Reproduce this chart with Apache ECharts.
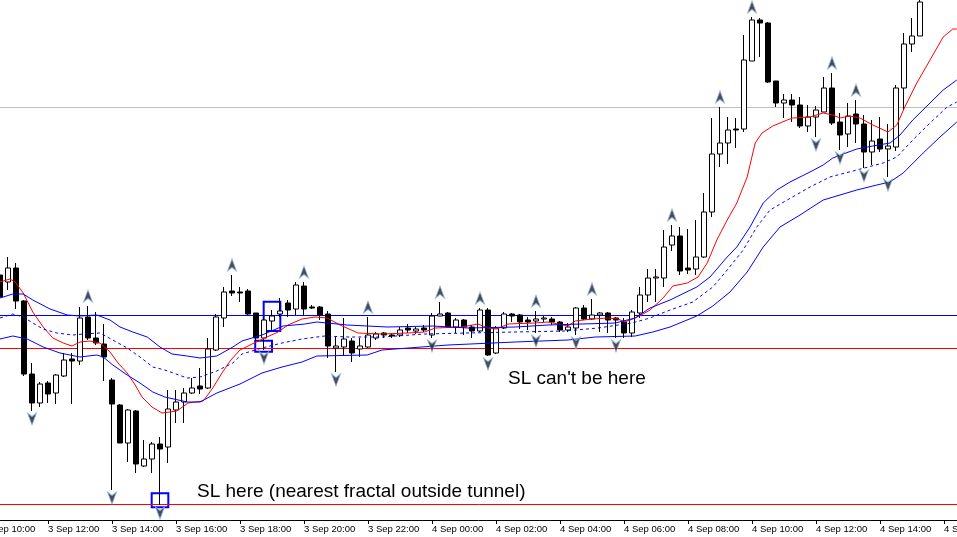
<!DOCTYPE html>
<html>
<head>
<meta charset="utf-8">
<script src="https://cdn.jsdelivr.net/npm/echarts@6/dist/echarts.min.js"></script>
<style>
    html, body { margin: 0; padding: 0; background: #fff; }
    #chart { width: 957px; height: 537px; }
</style>
</head>
<body>
<div id="chart"></div>
<script>
// 15 min bars, slot 0 = 3 Sep 10:00, first visible bar sits in slot 2
const firstSlot = 2;

const tickLabels = ['3 Sep 10:00', '3 Sep 12:00', '3 Sep 14:00', '3 Sep 16:00', '3 Sep 18:00', '3 Sep 20:00',
    '3 Sep 22:00', '4 Sep 00:00', '4 Sep 02:00', '4 Sep 04:00', '4 Sep 06:00', '4 Sep 08:00',
    '4 Sep 10:00', '4 Sep 12:00', '4 Sep 14:00', '4 Sep 16:00'];

const opens = [245, 238, 252, 219, 146, 117, 137, 127, 144, 161,
    159, 203, 182, 176, 140, 115, 77, 109, 54, 61,
    76, 73, 110, 118, 127, 134, 132, 170, 202, 229,
    228, 229, 207, 182, 199, 206, 217, 211, 234, 213,
    213, 206, 172, 173, 179, 171, 173, 182, 187, 185,
    185, 192, 189, 192, 185, 204, 207, 193, 200, 193,
    189, 210, 167, 192, 206, 205, 200, 199, 201, 201,
    198, 190, 192, 212, 201, 205, 207, 202, 198, 187,
    207, 225, 242, 242, 275, 284, 252, 251, 263, 308,
    366, 377, 391, 391, 459, 500, 497, 439, 417, 420,
    415, 394, 403, 408, 432, 398, 386, 406, 396, 368,
    381, 371, 373, 432, 476, 484];
const closes = [223, 252, 219, 146, 117, 136, 126, 145, 160, 159,
    202, 182, 177, 163, 116, 77, 110, 56, 61, 76,
    71, 111, 118, 127, 132, 131, 171, 203, 228, 227,
    227, 206, 182, 200, 204, 209, 210, 235, 211, 212,
    205, 174, 174, 181, 167, 174, 185, 186, 185, 184,
    190, 190, 191, 190, 204, 206, 193, 200, 193, 189,
    210, 165, 192, 206, 204, 198, 198, 201, 202, 198,
    190, 193, 212, 201, 205, 207, 200, 200, 187, 208,
    225, 242, 243, 273, 284, 249, 250, 263, 308, 366,
    377, 390, 390, 460, 500, 497, 438, 417, 420, 415,
    394, 403, 410, 432, 397, 385, 404, 396, 368, 379,
    371, 374, 432, 476, 484, 518];
const lows = [220, 230, 211, 144, 109, 113, 117, 116, 143, 116,
    155, 180, 175, 139, 30, 77, 58, 47, 53, 47,
    15, 57, 97, 97, 126, 126, 131, 169, 193, 224,
    218, 205, 178, 170, 190, 203, 203, 205, 205, 211,
    200, 162, 148, 164, 158, 163, 172, 180, 182, 182,
    183, 187, 186, 188, 182, 204, 192, 187, 185, 182,
    188, 164, 166, 191, 198, 191, 190, 187, 198, 195,
    188, 188, 185, 200, 200, 188, 187, 182, 182, 183,
    202, 218, 218, 233, 269, 245, 246, 245, 262, 303,
    353, 356, 372, 388, 459, 463, 437, 413, 402, 398,
    392, 388, 383, 408, 395, 370, 373, 377, 352, 355,
    368, 343, 369, 410, 468, 484];
const highs = [252, 263, 257, 220, 157, 138, 139, 146, 167, 167,
    213, 214, 208, 196, 142, 116, 111, 110, 80, 78,
    83, 130, 130, 132, 142, 152, 182, 206, 233, 245,
    233, 231, 207, 202, 210, 222, 220, 238, 238, 215,
    214, 209, 183, 202, 182, 182, 203, 188, 188, 187,
    193, 196, 193, 195, 207, 218, 208, 202, 201, 195,
    212, 212, 194, 208, 207, 206, 203, 209, 204, 203,
    199, 197, 213, 215, 221, 208, 208, 203, 202, 210,
    233, 251, 251, 290, 295, 293, 291, 300, 327, 402,
    413, 403, 402, 485, 503, 502, 498, 439, 426, 426,
    423, 415, 414, 443, 447, 407, 417, 420, 405, 400,
    403, 396, 435, 487, 502, 532];

// indicator lines, [slot, price]
const redLine = [[2, 238], [3.25, 241], [3.9, 238], [4.9, 227], [6.1, 208], [7.4, 193], [8.6, 182], [9.9, 177],
    [11, 174], [12, 178], [13.25, 179], [14.5, 177], [15.75, 168], [16.75, 157], [17.9, 147], [18.9, 135],
    [19.75, 123], [21, 113], [22.25, 107], [24.1, 109], [25.5, 117], [27.4, 119], [28.6, 132], [29.75, 147],
    [30.75, 159], [32, 170], [33.5, 176], [35.1, 182], [36.75, 188], [38, 195], [39.75, 201], [41.4, 203],
    [42.9, 202], [44.5, 195], [46.75, 187], [49.75, 186], [52.9, 187], [55.1, 188], [56.4, 192], [59.75, 193],
    [61.75, 196], [63, 192], [64.1, 191], [65.5, 196], [68.9, 197], [70.5, 198], [73, 194], [73.9, 199],
    [76, 201], [78, 202], [79.25, 201], [80.1, 198], [81.4, 202], [82.6, 207], [83.25, 210], [84.9, 222],
    [86.1, 234], [87.9, 237], [89.25, 243], [90.4, 257], [91.6, 280], [92.9, 300], [94.1, 317], [95.4, 343],
    [96.4, 377], [97.25, 387], [98.6, 394], [100.4, 400], [101.1, 402], [103.25, 403], [104.9, 407],
    [106.1, 405], [107, 402], [108.25, 404], [109.5, 402], [111.1, 395], [113, 388], [114.1, 395],
    [115.1, 413], [116.6, 437], [118.25, 460], [119.9, 483], [121.1, 491], [121.6, 491]];
const upperBand = [[2, 222], [3.6, 226], [4.9, 226], [6.1, 220], [8.25, 211], [10.4, 205], [12, 204], [14.1, 205],
    [15.75, 200], [17, 193], [18.6, 188], [20.4, 183], [22, 173], [23.5, 166], [25.4, 164], [27, 162],
    [29.1, 164], [31.1, 173], [32.25, 179], [34.75, 185], [37.4, 194], [40.1, 196], [41.6, 198], [45.4, 195],
    [50.4, 193], [56.1, 194], [60.5, 192], [66.4, 193], [70.5, 195], [74.75, 196], [78.9, 197], [81.4, 202],
    [83.25, 212], [85.75, 220], [89.1, 233], [90.75, 243], [92.9, 263], [94.1, 273], [95.75, 293],
    [97.4, 317], [99.1, 330], [100.75, 338], [103.25, 348], [104.9, 355], [106.1, 362], [107.4, 366],
    [109.1, 371], [111.1, 374], [113.25, 377], [114.5, 385], [116.1, 400], [118.25, 417], [119.9, 430],
    [121.6, 440]];
const midBand = [[2, 202], [3.6, 206], [4.9, 203], [6.1, 197], [7.4, 191], [9.1, 187], [11.1, 185], [12.4, 186],
    [14.5, 187], [16.1, 180], [17.9, 172], [19.5, 163], [21.1, 153], [22.6, 150], [25.4, 142], [27, 143],
    [29.1, 149], [31.1, 157], [32.25, 166], [34.75, 172], [37.25, 177], [39.75, 181], [42.6, 184],
    [45.5, 183], [49.75, 183], [55.1, 186], [60.5, 187], [66.4, 188], [72.6, 189], [76.75, 192], [81, 197],
    [83.25, 202], [85.75, 210], [88.6, 218], [91.1, 233], [92.9, 250], [94.9, 270], [96.6, 293],
    [98.25, 310], [100.4, 320], [103.25, 333], [105.75, 343], [109.1, 350], [112.4, 357], [114.1, 363],
    [116.1, 380], [118.25, 397], [120.4, 413], [121.6, 418]];
const lowerBand = [[2, 181], [3.6, 184], [5.4, 181], [7.4, 173], [9.5, 167], [12, 163], [14.1, 165], [14.9, 163],
    [16.1, 155], [17.9, 145], [19.5, 137], [21.1, 128], [22.6, 123], [25.4, 118], [27, 118], [29.1, 127],
    [32, 136], [34.75, 147], [37.25, 153], [39.75, 158], [41.6, 164], [47.9, 165], [49.75, 170], [58, 175],
    [66.4, 178], [73, 180], [76.4, 183], [81.4, 184], [83.6, 188], [85.75, 193], [89.1, 204], [91.1, 214],
    [93.25, 228], [95.4, 248], [97.4, 273], [99.5, 293], [102, 305], [104.9, 320], [109.1, 330],
    [111.6, 335], [113.25, 338], [114.9, 347], [117.4, 367], [119.5, 383], [121.6, 398]];

// bars (index into the arrays above) that carry a fractal
const upFractals = [11, 29, 38, 46, 55, 60, 67, 74, 84, 90, 94, 104, 107];
const downFractals = [4, 14, 20, 33, 42, 54, 61, 67, 72, 77, 102, 105, 108, 111];

// horizontal levels drawn on the chart: [price, colour]
const levels = [[412.5, '#c0c0c0'], [204.5, '#0000ff'], [171.5, '#ff0000'], [15.5, '#ff0000']];

// marker boxes: [slotFrom, slotTo, priceFrom, priceTo]
const boxes = [[20.96, 23.04, 12.7, 26.7], [33.9, 36.0, 168.3, 179.3], [34.96, 37.04, 189, 218.3]];

let candles = [];
for (let i = 0; i < opens.length; i++) {
    candles.push([i + firstSlot, opens[i], closes[i], lows[i], highs[i]]);
}

// each level is a plain two-point line across the whole axis range
let levelSeries = levels.map(l => ({
    type: 'line',
    data: [[0, l[0]], [128, l[0]]],
    symbol: 'none',
    silent: true,
    lineStyle: { color: l[1], width: 1 },
    z: 1
}));

const arrowUp = 'path://M5,0 L10,12 L5,8.5 L0,12 Z';
const arrowDown = 'path://M0,0 L5,3.5 L10,0 L5,12 Z';

let myChart = echarts.init(document.getElementById('chart'));
let option = {
    animation: false,
    backgroundColor: '#ffffff',
    grid: { left: -16, right: -51, top: 0, bottom: 17, containLabel: false, outerBoundsMode: 'none' },
    xAxis: {
        type: 'value',
        min: 0,
        max: 128,
        interval: 8,
        axisLine: { show: true, lineStyle: { color: '#000', width: 1 } },
        axisTick: { show: true, length: 4, lineStyle: { color: '#000' } },
        splitLine: { show: false },
        axisLabel: {
            align: 'left',
            margin: 4,
            color: '#000',
            fontFamily: 'Liberation Sans, Arial, sans-serif',
            fontSize: 9.5,
            hideOverlap: false,
            formatter: v => tickLabels[v / 8] || ''
        }
    },
    yAxis: {
        type: 'value',
        min: 0,
        max: 520,
        show: false,
        splitLine: { show: false }
    },
    series: levelSeries.concat([
        {
            type: 'candlestick',
            data: candles,
            encode: { x: 0, y: [1, 2, 3, 4] },
            barWidth: 5,
            clip: true,
            itemStyle: {
                color: '#ffffff',
                color0: '#000000',
                borderColor: '#000000',
                borderColor0: '#000000',
                borderWidth: 1
            },
            markArea: {
                silent: true,
                itemStyle: { color: 'rgba(0,0,0,0)', borderColor: '#0000ff', borderWidth: 2 },
                data: boxes.map(b => [{ xAxis: b[0], yAxis: b[2] }, { xAxis: b[1], yAxis: b[3] }])
            }
        },
        {
            type: 'line', data: redLine, symbol: 'none',
            lineStyle: { color: '#ff0000', width: 1 }
        },
        {
            type: 'line', data: upperBand, symbol: 'none',
            lineStyle: { color: '#0000ff', width: 1 }
        },
        {
            type: 'line', data: midBand, symbol: 'none',
            lineStyle: { color: '#0000ff', width: 1, type: [3, 3] }
        },
        {
            type: 'line', data: lowerBand, symbol: 'none',
            lineStyle: { color: '#0000ff', width: 1 }
        },
        {
            type: 'scatter',
            data: upFractals.map(i => [i + firstSlot, highs[i]]),
            symbol: arrowUp,
            symbolSize: [9, 12],
            symbolOffset: [0, -10],
            itemStyle: { color: '#1e1e28', borderColor: '#8fb3d9', borderWidth: 1 },
            z: 5
        },
        {
            type: 'scatter',
            data: downFractals.map(i => [i + firstSlot, lows[i]]),
            symbol: arrowDown,
            symbolSize: [9, 12],
            symbolOffset: [0, 8],
            itemStyle: { color: '#1e1e28', borderColor: '#8fb3d9', borderWidth: 1 },
            z: 5
        }
    ]),
    graphic: [
        {
            type: 'text', left: 197, top: 482,
            style: { text: 'SL here (nearest fractal outside tunnel)', fill: '#000', font: '19px "Liberation Sans", Arial, sans-serif' }
        },
        {
            type: 'text', left: 508, top: 369,
            style: { text: "SL can't be here", fill: '#000', font: '19px "Liberation Sans", Arial, sans-serif' }
        }
    ]
};
option && myChart.setOption(option);
</script>
</body>
</html>
